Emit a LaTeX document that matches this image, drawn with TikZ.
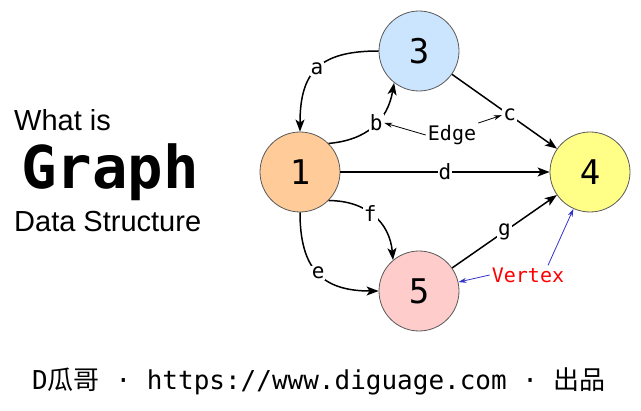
\documentclass[tikz,border=0pt]{standalone}
\usepackage{fontspec}
\setmainfont{Liberation Sans}
\newfontfamily\monofont{DejaVu Sans Mono}
\newfontfamily\cjkfont{Noto Sans CJK SC}
\usetikzlibrary{arrows.meta}

\definecolor{vxblue}{HTML}{CCE5FF}
\definecolor{vxorange}{HTML}{FFCC99}
\definecolor{vxyellow}{HTML}{FFFF88}
\definecolor{vxpink}{HTML}{FFCCCC}
\definecolor{notered}{HTML}{FF0000}
\definecolor{noteblue}{HTML}{3333CC}

\tikzset{
  vertex/.style={circle, draw=black!65, line width=0.8pt, minimum size=80pt, inner sep=0pt,
    font=\monofont\fontsize{34}{34}\selectfont},
  edge/.style={line width=1.5pt, -{Stealth[length=12pt,width=9pt,inset=3pt]}},
  elabel/.style={fill=white, inner sep=1pt, font=\monofont\fontsize{21}{21}\selectfont},
  note/.style={line width=0.8pt, -{Stealth[length=8pt,width=5pt]}},
}

\begin{document}
\begin{tikzpicture}[x=1pt,y=1pt]
\path[use as bounding box] (0,0) rectangle (641,-411);

% Title
\node[anchor=west, inner sep=0pt, font=\fontsize{29}{29}\selectfont] (whatis) at (14,-120) {What is};
\node[inner sep=0pt, font=\monofont\bfseries\fontsize{59}{59}\selectfont] (graph) at (110,-172) {Graph};
\node[anchor=west, inner sep=0pt, font=\fontsize{29}{29}\selectfont] (datastr) at (14,-222) {Data Structure};

% Vertices
\node[vertex, fill=vxblue] (n3) at (419,-51) {3};
\node[vertex, fill=vxorange] (n1) at (300,-172) {1};
\node[vertex, fill=vxyellow] (n4) at (590,-172) {4};
\node[vertex, fill=vxpink] (n5) at (419,-291) {5};

% Edges
\draw[edge] (n3.west) to[out=180,in=90,looseness=1.35] node[elabel] (la) {a} (n1.north);
\draw[edge] (n1.45) to[out=5,in=-100,looseness=1.1] node[elabel,pos=0.55] (lb) {b} (n3.-128);
\draw[edge] (n3) -- node[elabel,pos=0.55] (lc) {c} (n4);
\draw[edge] (n1) -- node[elabel] (ld) {d} (n4);
\draw[edge] (n1.south) to[out=-90,in=180,looseness=1.3] node[elabel] (le) {e} (n5.west);
\draw[edge] (n1.-45) to[out=0,in=95,looseness=1.1] node[elabel,pos=0.45] (lf) {f} (n5.130);
\draw[edge] (n5) -- node[elabel] (lg) {g} (n4);

% Notes
\node[font=\monofont\fontsize{20}{20}\selectfont, inner sep=2pt] (edgetxt) at (452,-135) {Edge};
\node[font=\monofont\fontsize{20}{20}\selectfont, text=notered, inner sep=2pt] (vtxtxt) at (528,-275) {Vertex};
\draw[note] (edgetxt.west) -- (lb.east);
\draw[note] (edgetxt.north east) -- (lc.west);
\draw[note, noteblue] (vtxtxt.west) -- (n5);
\draw[note, noteblue] ([xshift=20pt]vtxtxt.north) -- (n4);

% Footer
\node[font=\monofont\fontsize{26}{26}\selectfont] (footer) at (319,-381)
  {D{\cjkfont 瓜哥} · https://www.diguage.com · {\cjkfont 出品}};
\end{tikzpicture}
\end{document}
